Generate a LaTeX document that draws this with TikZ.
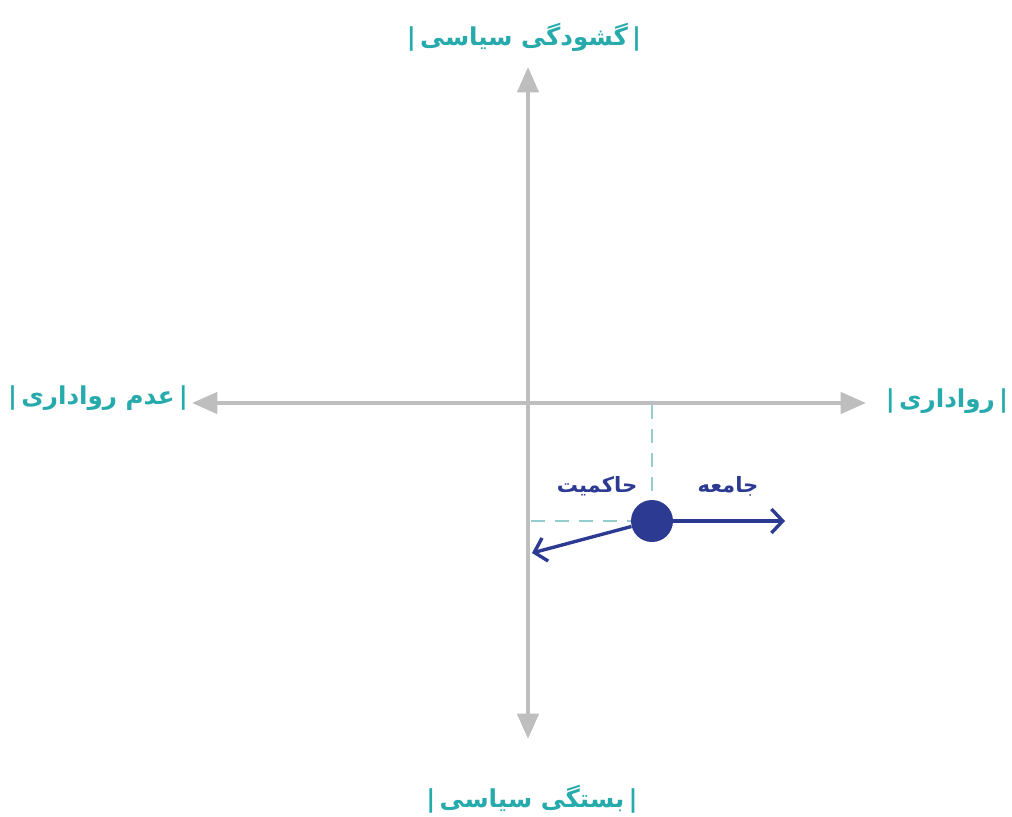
\documentclass[tikz,border=0pt]{standalone}
\usepackage{fontspec}
\usetikzlibrary{arrows.meta}
\TeXXeTstate=1
\newfontfamily\arabicfont[Script=Arabic]{DejaVu Sans}
\definecolor{axisgray}{RGB}{190, 190, 190}
\definecolor{labelteal}{RGB}{38, 170, 172}
\definecolor{dashteal}{RGB}{150, 205, 205}
\definecolor{dotblue}{RGB}{44, 58, 145}

\begin{document}
\begin{tikzpicture}[x=0.025cm, y=-0.025cm]
                    \useasboundingbox (0,0) rectangle (1012,816);
                    \tikzset{axis/.style={draw=axisgray, line width=3pt, -{Triangle[length=18pt, width=15pt]}},
                             guide/.style={draw=dashteal, line width=2pt, dash pattern=on 10pt off 7pt},
                             force/.style={draw=dotblue, line width=2.4pt, -{Straight Barb[length=8pt, width=17pt, line width=2.4pt]}},
                             axislabel/.style={text=labelteal, font=\arabicfont\bfseries\fontsize{17.5}{21}\selectfont},
                             forcelabel/.style={text=dotblue, font=\arabicfont\bfseries\fontsize{15}{18}\selectfont}}

                    % axes
                    \coordinate (o) at (528,403);
                    \coordinate (west) at (192,403);
                    \coordinate (east) at (866,403);
                    \coordinate (north) at (528,67);
                    \coordinate (south) at (528,739);
                    \draw[axis] (o) -- (west);
                    \draw[axis] (o) -- (east);
                    \draw[axis] (o) -- (north);
                    \draw[axis] (o) -- (south);

                    \node[axislabel] (open) at (524,37) {\beginR|\hspace{3pt}گشودگی سیاسی\hspace{3pt}|\endR};
                    \node[axislabel] (closed) at (532,799) {\beginR|\hspace{3pt}بستگی سیاسی\hspace{3pt}|\endR};
                    \node[axislabel] (intol) at (98,398) {\beginR|\hspace{3pt}عدم رواداری\hspace{3pt}|\endR};
                    \node[axislabel] (tol) at (947,401) {\beginR|\hspace{3pt}رواداری\hspace{3pt}|\endR};

                    % position
                    \node[circle, fill=dotblue, inner sep=0pt, minimum size=1.05cm] (dot) at (652,521) {};
                    \coordinate (xfoot) at (652,405);
                    \coordinate (yfoot) at (531,521);
                    \draw[guide] (xfoot) -- (dot.north);
                    \draw[guide] (yfoot) -- (dot.west);

                    \coordinate (society) at (785,521);
                    \coordinate (state) at (532,553);
                    \draw[force] (dot.east) -- (society);
                    \draw[force] (dot) -- (state);
                    \node[forcelabel] (society label) at (728,486) {\beginR جامعه\endR};
                    \node[forcelabel] (state label) at (597,486) {\beginR حاکمیت\endR};
                \end{tikzpicture}
\end{document}
